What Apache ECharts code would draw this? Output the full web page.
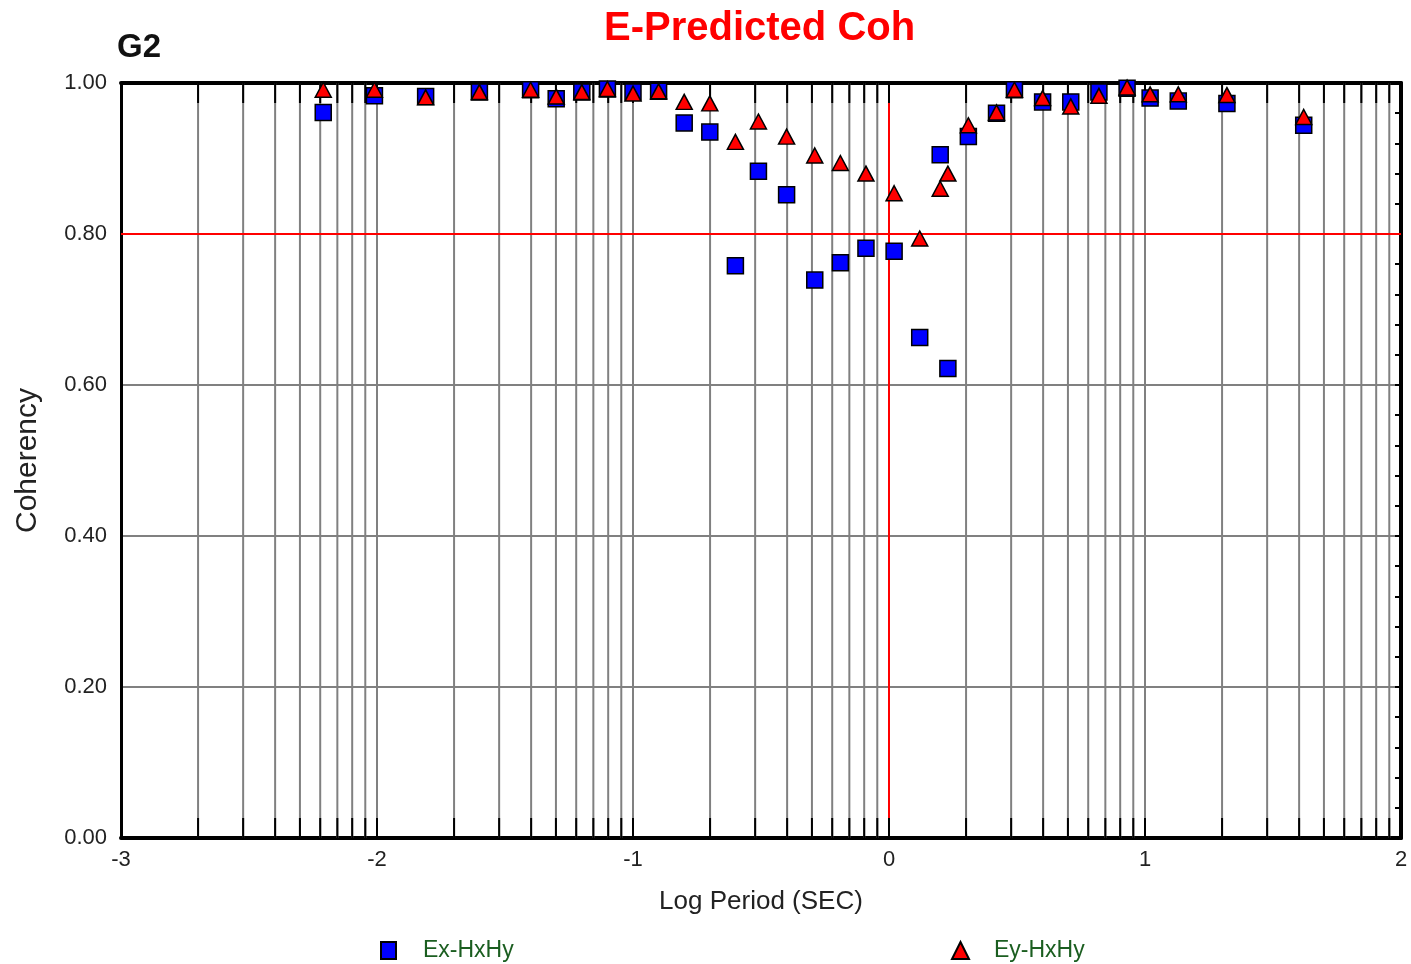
<!DOCTYPE html>
<html><head><meta charset="utf-8">
<script src="https://cdn.jsdelivr.net/npm/echarts@6/dist/echarts.min.js"></script>
<style>html,body{margin:0;padding:0;background:#fff}#chart{width:1411px;height:964px}</style>
</head><body><div id="chart"></div>
<script>
// ---- data ----
const logPeriod = [-2.21, -2.01, -1.81, -1.60, -1.40, -1.30, -1.20, -1.10, -1.00, -0.90, -0.80,
  -0.70, -0.60, -0.51, -0.40, -0.29, -0.19, -0.09, 0.02, 0.12, 0.20, 0.23, 0.31, 0.42,
  0.49, 0.60, 0.71, 0.82, 0.93, 1.02, 1.13, 1.32, 1.62];
const exHxHy = [0.961, 0.983, 0.982, 0.988, 0.991, 0.979, 0.988, 0.992, 0.988, 0.989, 0.947,
  0.935, 0.758, 0.883, 0.852, 0.739, 0.762, 0.781, 0.777, 0.663, 0.905, 0.622, 0.929, 0.960,
  0.991, 0.975, 0.975, 0.988, 0.993, 0.980, 0.976, 0.973, 0.944];
const eyHxHy = [0.991, 0.991, 0.981, 0.988, 0.991, 0.982, 0.988, 0.992, 0.986, 0.989, 0.975,
  0.973, 0.922, 0.949, 0.929, 0.904, 0.894, 0.880, 0.854, 0.794, 0.860, 0.880, 0.944, 0.961,
  0.991, 0.980, 0.969, 0.983, 0.994, 0.985, 0.985, 0.984, 0.955];
const xTickLabels = ['-3', '-2', '-1', '0', '1', '2'];
const yTickLabels = ['0.00', '0.20', '0.40', '0.60', '0.80', '1.00'];
const decadeStarts = [-3, -2, -1, 0, 1];
const decadeMultipliers = [1, 2, 3, 4, 5, 6, 7, 8, 9];
const refLogPeriod = [0];
const refCoherency = [0.8];
const seriesNames = ['Ex-HxHy', 'Ey-HxHy'];

// log-decade grid positions (interior only)
const gridPositions = [];
decadeStarts.forEach(d => decadeMultipliers.forEach(m => {
  const v = d + Math.log10(m);
  if (v > -3 + 1e-9) gridPositions.push(v);
}));

const chart = echarts.init(document.getElementById('chart'), null, {renderer: 'canvas'});
const FONT = 'Liberation Sans, Arial, sans-serif';

function vLine(color, width, mode) {
  return function (params, api) {
    const cs = params.coordSys;
    const x = api.coord([api.value(0), 0])[0];
    if (mode === 'full') {
      return {type: 'line', shape: {x1: x, y1: cs.y, x2: x, y2: cs.y + cs.height},
        style: {stroke: color, lineWidth: width}};
    }
    return {type: 'group', children: [
      {type: 'line', shape: {x1: x, y1: cs.y, x2: x, y2: cs.y + 20}, style: {stroke: color, lineWidth: width}},
      {type: 'line', shape: {x1: x, y1: cs.y + cs.height - 20, x2: x, y2: cs.y + cs.height}, style: {stroke: color, lineWidth: width}}
    ]};
  };
}

const option = {
  backgroundColor: '#ffffff',
  animation: false,
  title: [
    {text: 'E-Predicted Coh', left: 604, top: 9, padding: 0,
      textStyle: {color: '#ff0000', fontFamily: FONT, fontWeight: 'bold', fontSize: 40}},
    {text: 'G2', left: 117, top: 31, padding: 0,
      textStyle: {color: '#111', fontFamily: FONT, fontWeight: 'bold', fontSize: 33}}
  ],
  legend: [
    {data: [seriesNames[0]], left: 380, top: 939, itemWidth: 15, itemHeight: 17, padding: 0,
      selectedMode: false,
      textStyle: {color: '#1b5e20', fontFamily: FONT, fontSize: 23, padding: [0, 0, 0, 22]}},
    {data: [seriesNames[1]], left: 951, top: 939, itemWidth: 17, itemHeight: 17, padding: 0,
      selectedMode: false,
      textStyle: {color: '#1b5e20', fontFamily: FONT, fontSize: 23, padding: [0, 0, 0, 20]}}
  ],
  grid: {left: 121, right: 10, top: 83, bottom: 126, containLabel: false},
  xAxis: [
    {type: 'value', position: 'bottom', min: -3, max: 2, interval: 1,
      axisLine: {onZero: false, lineStyle: {color: '#000', width: 4}},
      axisTick: {show: false}, splitLine: {show: false},
      axisLabel: {margin: 11, color: '#222', fontFamily: FONT, fontSize: 22,
        formatter: (v) => xTickLabels[Math.round(v + 3)]},
      name: 'Log Period (SEC)', nameLocation: 'middle', nameGap: 51,
      nameTextStyle: {color: '#222', fontFamily: FONT, fontSize: 26}},
    {type: 'value', position: 'top', min: -3, max: 2, interval: 1,
      axisLine: {onZero: false, lineStyle: {color: '#000', width: 4}},
      axisTick: {show: false}, axisLabel: {show: false}, splitLine: {show: false}}
  ],
  yAxis: [
    {type: 'value', position: 'left', min: 0, max: 1, interval: 0.2,
      axisLine: {show: true, onZero: false, lineStyle: {color: '#000', width: 3}},
      axisTick: {show: false},
      splitLine: {show: true, lineStyle: {color: '#808080', width: 2}},
      axisLabel: {margin: 14, color: '#222', fontFamily: FONT, fontSize: 22,
        formatter: (v) => yTickLabels[Math.round(v * 5)]},
      name: 'Coherency', nameLocation: 'middle', nameGap: 78, nameRotate: 90,
      nameTextStyle: {color: '#222', fontFamily: FONT, fontSize: 30}},
    {type: 'value', position: 'right', min: 0, max: 1, interval: 0.04,
      axisLine: {show: true, onZero: false, lineStyle: {color: '#000', width: 4}},
      axisTick: {show: true, inside: true, length: 6, lineStyle: {color: '#000', width: 2}},
      axisLabel: {show: false}, splitLine: {show: false}}
  ],
  series: [
    {name: 'grid', type: 'custom', z: 1, silent: true, xAxisIndex: 0, yAxisIndex: 0,
      renderItem: vLine('#808080', 2, 'full'),
      data: gridPositions.filter(v => v < 2 - 1e-9).map(v => [v, 0])},
    {name: 'refV', type: 'custom', z: 2, silent: true,
      renderItem: vLine('#ff0000', 2, 'full'),
      data: refLogPeriod.map(v => [v, 0])},
    {name: 'refH', type: 'custom', z: 2, silent: true,
      renderItem: function (params, api) {
        const cs = params.coordSys;
        const y = api.coord([-3, api.value(1)])[1];
        return {type: 'line', shape: {x1: cs.x, y1: y, x2: cs.x + cs.width, y2: y},
          style: {stroke: '#ff0000', lineWidth: 2}};
      },
      data: refCoherency.map(v => [-3, v])},
    {name: 'ticks', type: 'custom', z: 3, silent: true,
      renderItem: vLine('#000000', 2, 'ticks'),
      data: gridPositions.filter(v => v < 2 - 1e-9).map(v => [v, 0])},
    {name: seriesNames[0], type: 'scatter', z: 5, symbol: 'rect', symbolSize: 16,
      itemStyle: {color: '#0000ff', borderColor: '#000', borderWidth: 1.5, opacity: 1},
      data: logPeriod.map((x, i) => [x, exHxHy[i]])},
    {name: seriesNames[1], type: 'scatter', z: 6, symbol: 'triangle', symbolSize: [16, 15],
      itemStyle: {color: '#ff0000', borderColor: '#000', borderWidth: 1.5, opacity: 1},
      data: logPeriod.map((x, i) => [x, eyHxHy[i]])}
  ]
};
chart.setOption(option);
</script>
</body></html>
